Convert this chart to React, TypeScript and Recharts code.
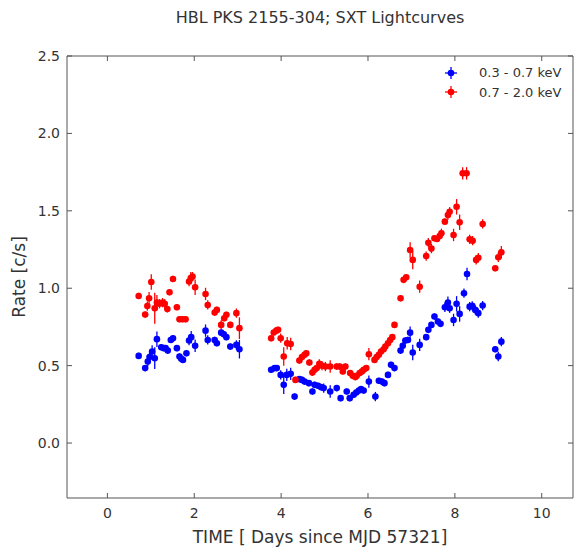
import React from "react";
import { ScatterChart, Scatter, XAxis, YAxis, ErrorBar, Label } from "recharts";

// ---- data ----
const softTime = [0.72,0.87,0.93,0.97,1.03,1.09,1.14,1.24,1.30,1.34,1.39,1.46,1.51,1.60,1.66,1.70,1.74,1.82,1.88,1.93,2.02,2.26,2.31,2.47,2.52,2.62,2.68,2.74,2.83,2.97,3.04,3.77,3.85,3.90,3.99,4.06,4.13,4.22,4.31,4.42,4.48,4.54,4.64,4.72,4.77,4.85,4.92,4.98,5.13,5.28,5.37,5.51,5.58,5.67,5.73,5.79,5.84,5.90,6.02,6.17,6.25,6.32,6.38,6.46,6.53,6.61,6.75,6.80,6.86,6.92,6.97,7.03,7.19,7.34,7.39,7.46,7.53,7.61,7.67,7.77,7.84,7.88,7.97,8.04,8.11,8.21,8.28,8.34,8.40,8.47,8.54,8.64,8.93,9.00,9.07];
const softRate = [0.563,0.484,0.526,0.555,0.591,0.548,0.671,0.619,0.613,0.613,0.597,0.666,0.677,0.613,0.559,0.544,0.537,0.58,0.662,0.684,0.628,0.726,0.666,0.666,0.645,0.713,0.703,0.684,0.623,0.634,0.606,0.473,0.484,0.484,0.44,0.376,0.44,0.447,0.30,0.413,0.408,0.397,0.387,0.333,0.376,0.37,0.361,0.355,0.333,0.355,0.29,0.333,0.29,0.312,0.326,0.339,0.348,0.339,0.397,0.30,0.402,0.397,0.387,0.44,0.505,0.484,0.597,0.628,0.662,0.666,0.713,0.585,0.634,0.684,0.731,0.763,0.817,0.785,0.77,0.877,0.907,0.871,0.795,0.899,0.834,0.968,1.092,0.881,0.886,0.86,0.839,0.888,0.606,0.559,0.655];
const softErr = [0.02,0.02,0.03,0.03,0.04,0.07,0.05,0.02,0.02,0.02,0.02,0.02,0.02,0.02,0.02,0.02,0.02,0.02,0.03,0.04,0.04,0.04,0.03,0.02,0.02,0.02,0.02,0.02,0.02,0.03,0.06,0.02,0.02,0.02,0.03,0.06,0.04,0.04,0.02,0.02,0.02,0.02,0.02,0.02,0.02,0.02,0.02,0.03,0.04,0.02,0.02,0.02,0.02,0.02,0.02,0.02,0.02,0.02,0.04,0.03,0.02,0.02,0.02,0.02,0.02,0.02,0.02,0.02,0.02,0.02,0.04,0.05,0.04,0.02,0.02,0.02,0.02,0.02,0.02,0.03,0.04,0.03,0.04,0.05,0.05,0.03,0.04,0.03,0.03,0.03,0.03,0.03,0.02,0.03,0.03];

const hardTime = [0.72,0.87,0.92,0.96,1.01,1.09,1.14,1.20,1.27,1.32,1.38,1.43,1.51,1.60,1.66,1.73,1.80,1.88,1.92,1.96,2.02,2.26,2.31,2.47,2.52,2.62,2.69,2.74,2.83,2.97,3.04,3.77,3.83,3.89,3.93,3.99,4.06,4.14,4.22,4.33,4.42,4.48,4.54,4.58,4.65,4.72,4.77,4.82,4.88,4.94,5.02,5.13,5.28,5.35,5.42,5.48,5.59,5.65,5.71,5.74,5.81,5.86,5.90,5.96,6.02,6.15,6.20,6.25,6.30,6.36,6.40,6.46,6.51,6.56,6.61,6.75,6.82,6.88,6.97,7.03,7.19,7.34,7.39,7.46,7.53,7.59,7.65,7.69,7.77,7.84,7.88,7.97,8.04,8.11,8.18,8.27,8.34,8.41,8.49,8.54,8.64,8.93,9.00,9.07];
const hardRate = [0.95,0.83,0.885,0.935,1.04,0.87,0.907,0.90,0.907,0.90,0.865,0.974,1.06,0.877,0.80,0.80,0.80,1.043,1.065,1.075,1.006,0.963,0.892,0.843,0.86,0.763,0.806,0.828,0.763,0.839,0.742,0.677,0.714,0.726,0.731,0.677,0.559,0.645,0.64,0.408,0.533,0.555,0.57,0.58,0.52,0.455,0.473,0.484,0.512,0.50,0.494,0.494,0.494,0.494,0.462,0.494,0.452,0.434,0.426,0.434,0.452,0.462,0.473,0.484,0.574,0.537,0.555,0.57,0.591,0.606,0.623,0.645,0.666,0.684,0.763,0.935,1.054,1.071,1.247,1.183,1.01,1.208,1.294,1.256,1.323,1.318,1.337,1.355,1.43,1.473,1.494,1.344,1.526,1.426,1.742,1.742,1.316,1.307,1.183,1.197,1.415,1.129,1.20,1.232];
const hardErr = [0.02,0.02,0.03,0.04,0.05,0.10,0.05,0.03,0.03,0.03,0.02,0.02,0.02,0.02,0.02,0.02,0.02,0.03,0.04,0.03,0.05,0.04,0.03,0.02,0.02,0.03,0.02,0.02,0.02,0.03,0.07,0.02,0.02,0.02,0.02,0.03,0.06,0.04,0.04,0.02,0.02,0.02,0.02,0.02,0.02,0.02,0.02,0.02,0.03,0.03,0.03,0.04,0.02,0.02,0.02,0.02,0.02,0.02,0.02,0.02,0.02,0.02,0.02,0.02,0.04,0.02,0.02,0.02,0.02,0.02,0.02,0.02,0.02,0.02,0.02,0.02,0.02,0.02,0.05,0.06,0.04,0.03,0.03,0.03,0.02,0.02,0.02,0.03,0.02,0.03,0.03,0.04,0.05,0.05,0.04,0.04,0.03,0.03,0.03,0.03,0.03,0.02,0.03,0.04];

const timeHalfBin = 0.05;
const xTicks = [0, 2, 4, 6, 8, 10];
const yTicks = [0, 0.5, 1.0, 1.5, 2.0, 2.5];
const xDomain = [-0.93, 10.72];
const yDomain = [-0.355, 2.5];
const softName = "0.3 - 0.7 keV";
const hardName = "0.7 - 2.0 keV";
const softColor = "#0000ff";
const hardColor = "#ff0000";
const titleText = "HBL PKS 2155-304; SXT Lightcurves";
const xLabel = "TIME [ Days since MJD 57321]";
const yLabel = "Rate [c/s]";

const softData = softTime.map((t, i) => ({ t, r: softRate[i], e: softErr[i], xe: timeHalfBin }));
const hardData = hardTime.map((t, i) => ({ t, r: hardRate[i], e: hardErr[i], xe: timeHalfBin }));
const legendItems = [
  { name: softName, color: softColor },
  { name: hardName, color: hardColor },
];

const FONT = "'DejaVu Sans', sans-serif";
const FRAME = "#555";
const TXT = "#333";

const BottomTick = (p: any) => (
  <g>
    <line x1={p.x} x2={p.x} y1={p.y} y2={p.y - 5} stroke={FRAME} strokeWidth={1} />
    <text x={p.x} y={p.y + 20} textAnchor="middle" fill={TXT} fontSize={14} fontFamily={FONT}>
      {p.payload.value}
    </text>
  </g>
);
const TopTick = (p: any) => (
  <line x1={p.x} x2={p.x} y1={p.y} y2={p.y + 5} stroke={FRAME} strokeWidth={1} />
);
const LeftTick = (p: any) => (
  <g>
    <line x1={p.x} x2={p.x + 5} y1={p.y} y2={p.y} stroke={FRAME} strokeWidth={1} />
    <text x={p.x - 7} y={p.y + 5} textAnchor="end" fill={TXT} fontSize={14} fontFamily={FONT}>
      {Number(p.payload.value).toFixed(1)}
    </text>
  </g>
);
const RightTick = (p: any) => (
  <line x1={p.x} x2={p.x - 5} y1={p.y} y2={p.y} stroke={FRAME} strokeWidth={1} />
);

const Dot = (color: string) => (p: any) => <circle cx={p.cx} cy={p.cy} r={3.3} fill={color} stroke="none" />;

export default function App() {
  return (
    <div style={{ position: "absolute", left: 0, top: 0, width: 574, height: 547, background: "#fff" }}>
      <div
        style={{
          position: "absolute",
          left: 67,
          width: 506,
          top: 8,
          textAlign: "center",
          fontFamily: FONT,
          fontSize: 16,
          color: TXT,
        }}
      >
        {titleText}
      </div>
      <ScatterChart width={574} height={547} margin={{ top: 55, right: 0, bottom: 0, left: 7 }}>
        <XAxis
          xAxisId="b"
          type="number"
          dataKey="t"
          domain={xDomain}
          ticks={xTicks}
          allowDataOverflow
          orientation="bottom"
          height={49}
          stroke={FRAME}
          tickLine={false}
          tickSize={0}
          tickMargin={0}
          tick={<BottomTick />}
          interval={0}
        >
          <Label
            content={(lp: any) => {
              const vb = lp.viewBox;
              return (
                <text x={vb.x + vb.width / 2} y={vb.y + vb.height - 4} textAnchor="middle" fill={TXT} fontSize={17} fontFamily={FONT}>
                  {xLabel}
                </text>
              );
            }}
          />
        </XAxis>
        <XAxis
          xAxisId="top"
          type="number"
          dataKey="t"
          domain={xDomain}
          ticks={xTicks}
          allowDataOverflow
          orientation="top"
          height={1}
          stroke={FRAME}
          tickLine={false}
          tickSize={0}
          tickMargin={0}
          tick={<TopTick />}
          interval={0}
        />
        <YAxis
          yAxisId="l"
          type="number"
          dataKey="r"
          domain={yDomain}
          ticks={yTicks}
          allowDataOverflow
          orientation="left"
          width={60}
          stroke={FRAME}
          tickLine={false}
          tickSize={0}
          tickMargin={0}
          tick={<LeftTick />}
          interval={0}
        >
          <Label
            content={() => {
              const cx = 20;
              const cy = 277;
              return (
                <text x={cx} y={cy} transform={`rotate(-90 ${cx} ${cy})`} textAnchor="middle" dominantBaseline="middle" fill={TXT} fontSize={17} fontFamily={FONT}>
                  {yLabel}
                </text>
              );
            }}
          />
        </YAxis>
        <YAxis
          yAxisId="rt"
          type="number"
          dataKey="r"
          domain={yDomain}
          ticks={yTicks}
          allowDataOverflow
          orientation="right"
          width={1}
          stroke={FRAME}
          tickLine={false}
          tickSize={0}
          tickMargin={0}
          tick={<RightTick />}
          interval={0}
        />
        <Scatter
          name={softName}
          data={softData}
          xAxisId="b"
          yAxisId="l"
          dataKey="r"
          fill={softColor}
          shape={Dot(softColor)}
          isAnimationActive={false}
        >
          <ErrorBar dataKey="e" direction="y" width={0} stroke={softColor} strokeWidth={1.3} />
          <ErrorBar dataKey="xe" direction="x" width={0} stroke={softColor} strokeWidth={1.3} />
        </Scatter>
        <Scatter
          name={hardName}
          data={hardData}
          xAxisId="b"
          yAxisId="l"
          dataKey="r"
          fill={hardColor}
          shape={Dot(hardColor)}
          isAnimationActive={false}
        >
          <ErrorBar dataKey="e" direction="y" width={0} stroke={hardColor} strokeWidth={1.3} />
          <ErrorBar dataKey="xe" direction="x" width={0} stroke={hardColor} strokeWidth={1.3} />
        </Scatter>
      </ScatterChart>
      <div style={{ position: "absolute", left: 444, top: 63, fontFamily: FONT, fontSize: 13, color: TXT }}>
        {legendItems.map((it) => (
          <div key={it.name} style={{ display: "flex", alignItems: "center", height: 19.6 }}>
            <svg width={14} height={14} style={{ marginRight: 21 }}>
              <line x1={1} x2={13} y1={7} y2={7} stroke={it.color} strokeWidth={1.3} />
              <line x1={7} x2={7} y1={1} y2={13} stroke={it.color} strokeWidth={1.3} />
              <circle cx={7} cy={7} r={3.3} fill={it.color} />
            </svg>
            <span>{it.name}</span>
          </div>
        ))}
      </div>
    </div>
  );
}
